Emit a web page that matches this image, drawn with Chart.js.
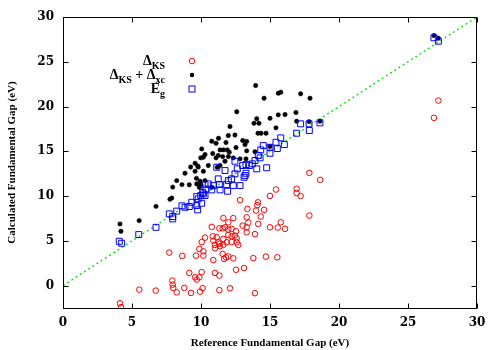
<!DOCTYPE html>
<html>
<head>
<meta charset="utf-8">
<script src="https://cdn.jsdelivr.net/npm/chart.js@4.4.0/dist/chart.umd.min.js"></script>
<style>
  body { margin: 0; background: #fff; }
</style>
</head>
<body>
<canvas id="gapChart" width="500" height="350"></canvas>
<script>
const xTicks = [0, 5, 10, 15, 20, 25, 30];
const yTicks = [0, 5, 10, 15, 20, 25, 30];

// y = x reference line
const lineX = [0, 30];
const lineY = [0, 30];

// Delta_KS (red open circles)
const redX = [4.13, 4.20, 5.53, 6.72, 7.70, 7.92, 7.95, 7.99, 8.24, 8.64, 8.79, 9.15, 9.28, 9.57, 9.69, 9.88, 9.64, 9.88, 9.93, 10.05,
  10.05, 10.12, 10.17, 10.17, 10.29, 10.78, 10.85, 10.89, 10.89, 11.01, 11.01, 11.01, 11.14, 11.25, 11.33, 11.33, 11.33, 11.33, 11.38, 11.57,
  11.57, 11.62, 11.62, 11.62, 11.67, 11.74, 11.81, 11.86, 11.98, 11.98, 11.98, 11.98, 12.10, 12.22, 12.22, 12.22, 12.34, 12.34, 12.46, 12.59,
  12.59, 12.54, 12.54, 12.70, 12.83, 13.02, 13.12, 13.31, 13.31, 13.31, 13.36, 13.43, 13.79, 13.91, 13.91, 13.99, 14.08, 14.13, 14.15, 14.33,
  14.57, 14.71, 15.00, 15.00, 15.43, 15.56, 15.53, 15.78, 16.09, 16.93, 16.93, 17.22, 17.85, 17.85, 18.64, 26.88, 27.20];
const redY = [-1.98, -2.40, -0.45, -0.56, 3.69, 0.56, 0.11, -0.26, -0.75, 3.32, -0.26, 1.42, -0.82, 0.93, 0.67, 0.93, 3.35, 4.10, -0.67, 1.51,
  4.86, -0.28, 3.83, 3.35, 5.36, 6.56, 5.51, 5.03, 2.85, 1.42, 4.55, 4.17, 5.40, 4.84, 6.40, 4.66, 1.12, -0.50, 4.39, 6.40,
  3.54, 7.54, 5.22, 4.55, 2.98, 6.51, 3.16, 4.84, 6.26, 7.07, 5.66, 3.27, -0.30, 6.34, 5.51, 4.88, 7.54, 3.05, 5.59, 5.28,
  4.84, 6.07, 1.77, 4.55, 9.55, 6.70, 1.96, 7.63, 6.51, 5.96, 8.57, 7.04, 3.07, 5.75, -0.84, 8.38, 8.99, 9.30, 6.89, 7.71,
  8.46, 3.24, 10.02, 6.51, 10.73, 6.48, 3.16, 7.07, 6.34, 10.82, 10.34, 10.00, 12.59, 7.82, 11.81, 18.74, 20.67];

// Delta_KS + Delta_xc (black filled)
const blackX = [4.13, 4.20, 5.52, 6.74, 7.75, 7.88, 7.95, 8.24, 8.62, 9.15, 8.84, 9.25, 9.57, 9.76, 10.17, 9.67, 9.93, 10.00, 10.29, 9.88,
  9.57, 9.80, 10.05, 10.17, 9.98, 10.53, 10.29, 10.78, 11.09, 11.27, 10.85, 11.09, 11.25, 11.18, 11.38, 11.74, 11.38, 11.62, 11.91, 12.05,
  11.57, 11.98, 11.81, 12.10, 11.98, 12.46, 12.59, 12.54, 12.34, 12.83, 13.26, 13.02, 13.31, 13.19, 13.31, 13.91, 13.96, 14.04, 14.20, 13.84,
  14.13, 14.35, 14.71, 14.57, 15.00, 15.00, 15.43, 15.60, 16.09, 15.60, 15.78, 16.88, 16.93, 17.22, 17.83, 17.90, 18.62, 26.88, 27.20, 10.78,
  9.69];
const blackY = [6.89, 6.07, 7.26, 8.85, 9.64, 9.78, 11.00, 11.73, 11.28, 11.26, 12.55, 13.24, 12.77, 13.37, 12.77, 11.98, 11.65, 11.28, 11.73, 10.98,
  13.66, 13.24, 15.27, 14.34, 14.27, 13.41, 14.64, 16.12, 15.90, 16.46, 14.75, 14.27, 14.53, 13.22, 13.41, 13.89, 15.16, 15.16, 15.16, 14.89,
  14.41, 14.41, 15.98, 17.77, 16.76, 16.82, 19.41, 15.42, 14.27, 14.16, 14.16, 16.20, 16.11, 15.75, 15.05, 14.95, 22.35, 18.63, 18.13, 18.13,
  17.02, 17.02, 17.02, 20.93, 18.69, 15.53, 17.62, 19.07, 19.11, 21.49, 21.60, 19.33, 18.36, 21.42, 18.32, 20.93, 18.36, 27.93, 27.63, 10.98,
  11.36];

// E_g (blue open squares)
const blueX = [4.08, 4.25, 5.49, 6.74, 7.70, 7.95, 7.95, 8.24, 8.62, 8.84, 9.15, 9.33, 9.69, 9.76, 9.69, 10.05, 10.17, 10.36, 10.29, 10.12,
  9.98, 9.80, 10.53, 10.89, 11.33, 11.86, 12.34, 12.83, 10.78, 11.38, 11.93, 10.29, 12.22, 12.46, 13.12, 13.26, 12.46, 12.63, 13.02, 13.26,
  13.50, 13.91, 14.04, 14.15, 14.28, 14.33, 14.51, 15.00, 15.00, 14.76, 15.53, 15.43, 15.78, 16.04, 16.93, 17.22, 17.83, 17.85, 18.62, 26.88,
  27.20, 11.14, 11.74, 11.25, 11.98, 13.19, 13.72];
const blueY = [4.95, 4.73, 5.70, 6.51, 8.01, 7.71, 7.45, 8.32, 8.91, 8.75, 8.83, 9.31, 8.94, 8.46, 9.94, 9.20, 10.25, 10.80, 11.28, 10.42,
  10.06, 9.69, 11.36, 11.17, 11.28, 11.28, 11.17, 11.17, 10.69, 10.69, 10.54, 10.06, 11.92, 12.48, 12.10, 12.55, 13.89, 13.04, 13.41, 13.52,
  13.41, 13.97, 13.04, 14.53, 14.27, 15.16, 15.64, 15.45, 14.78, 13.16, 15.31, 16.01, 16.50, 15.75, 17.02, 18.07, 18.07, 17.32, 18.18, 27.68,
  27.30, 13.22, 12.85, 11.92, 11.73, 12.29, 13.60];

const pts = (xs, ys) => xs.map((v, i) => ({x: v, y: ys[i]}));

const RED = 'rgb(255,0,0)';
const BLUE = 'rgb(0,0,255)';
const GREEN = 'rgb(0,220,0)';

// box, inward ticks and the in-plot key
const framePlugin = {
  id: 'frame',
  afterDraw(chart) {
    const {ctx, chartArea: a, scales: {x, y}} = chart;
    ctx.save();
    ctx.strokeStyle = '#000';
    ctx.lineWidth = 1;
    const L = Math.round(a.left) + 0.5, R = Math.round(a.right) - 0.5;
    const T = Math.round(a.top) + 0.5, B = Math.round(a.bottom) + 0.5;
    ctx.strokeRect(L, T, R - L, B - T);
    ctx.beginPath();
    xTicks.forEach(v => {
      const px = Math.round(x.getPixelForValue(v)) + 0.5;
      ctx.moveTo(px, B); ctx.lineTo(px, B - 5);
      ctx.moveTo(px, T); ctx.lineTo(px, T + 5);
    });
    yTicks.forEach(v => {
      const py = Math.round(y.getPixelForValue(v)) + 0.5;
      ctx.moveTo(L, py); ctx.lineTo(L + 5, py);
      ctx.moveTo(R, py); ctx.lineTo(R - 5, py);
    });
    ctx.stroke();

    // key
    const mainFont = 'bold 14px "Liberation Serif"';
    const subFont = 'bold 10px "Liberation Serif"';
    const entries = [
      {parts: [['Δ'], ['KS', 1]], y: 61, kind: 'red'},
      {parts: [['Δ'], ['KS', 1], [' + '], ['Δ'], ['xc', 1]], y: 75, kind: 'black'},
      {parts: [['E'], ['g', 1]], y: 89, kind: 'blue'}
    ];
    ctx.fillStyle = '#000';
    ctx.textBaseline = 'alphabetic';
    ctx.textAlign = 'left';
    entries.forEach(e => {
      let w = 0;
      e.parts.forEach(p => { ctx.font = p[1] ? subFont : mainFont; w += ctx.measureText(p[0]).width; });
      let cx = 165 - w;
      const base = e.y + 4;
      e.parts.forEach(p => {
        ctx.font = p[1] ? subFont : mainFont;
        ctx.fillText(p[0], cx, p[1] ? base + 4 : base);
        cx += ctx.measureText(p[0]).width;
      });
      const mx = 192;
      ctx.beginPath();
      if (e.kind === 'red') {
        ctx.strokeStyle = RED;
        ctx.arc(mx, e.y, 2.8, 0, Math.PI * 2);
        ctx.stroke();
      } else if (e.kind === 'black') {
        ctx.fillStyle = '#000';
        ctx.arc(mx, e.y, 2.2, 0, Math.PI * 2);
        ctx.fill();
      } else {
        ctx.strokeStyle = BLUE;
        ctx.strokeRect(mx - 3, e.y - 3, 6, 6);
      }
    });
    ctx.restore();
  }
};

const tickFont = {family: '"DejaVu Serif"', weight: 'bold', size: 12};
const titleFont = {family: '"Liberation Serif"', weight: 'bold', size: 11};

new Chart(document.getElementById('gapChart'), {
  type: 'scatter',
  data: {
    datasets: [
      {
        label: 'y = x',
        data: pts(lineX, lineY),
        showLine: true,
        borderColor: GREEN,
        borderWidth: 1.3,
        borderDash: [2, 3],
        pointRadius: 0,
        fill: false,
        order: 4
      },
      {
        label: 'ΔKS',
        data: pts(redX, redY),
        pointStyle: 'circle',
        pointRadius: 2.8,
        borderColor: RED,
        backgroundColor: 'rgba(0,0,0,0)',
        borderWidth: 1,
        order: 3
      },
      {
        label: 'ΔKS + Δxc',
        data: pts(blackX, blackY),
        pointStyle: 'circle',
        pointRadius: 2.2,
        borderColor: '#000',
        backgroundColor: '#000',
        borderWidth: 0.5,
        order: 2
      },
      {
        label: 'Eg',
        data: pts(blueX, blueY),
        pointStyle: 'rect',
        pointRadius: 4.2,
        borderColor: BLUE,
        backgroundColor: 'rgba(0,0,0,0)',
        borderWidth: 1,
        order: 1
      }
    ]
  },
  options: {
    responsive: false,
    animation: false,
    devicePixelRatio: 1,
    layout: {padding: {left: 0, right: 23, top: 17, bottom: 0}},
    plugins: {
      legend: {display: false},
      tooltip: {enabled: false}
    },
    scales: {
      x: {
        type: 'linear',
        min: 0,
        max: 30,
        afterBuildTicks: s => { s.ticks = xTicks.map(v => ({value: v})); },
        afterFit: s => { s.height = 42; },
        grid: {display: false, drawTicks: false},
        border: {display: false},
        ticks: {font: tickFont, color: '#000', padding: 8, maxRotation: 0, autoSkip: false},
        title: {display: true, text: 'Reference Fundamental Gap (eV)', font: titleFont, color: '#000', padding: {top: 0, bottom: 0}}
      },
      y: {
        type: 'linear',
        min: -2.5,
        max: 30,
        afterBuildTicks: s => { s.ticks = yTicks.map(v => ({value: v})); },
        afterFit: s => { s.width = 63; },
        grid: {display: false, drawTicks: false},
        border: {display: false},
        ticks: {font: tickFont, color: '#000', padding: 9, autoSkip: false},
        title: {display: true, text: 'Calculated Fundamental Gap (eV)', font: titleFont, color: '#000', padding: {top: 6, bottom: 0}}
      }
    }
  },
  plugins: [framePlugin]
});
</script>
</body>
</html>
